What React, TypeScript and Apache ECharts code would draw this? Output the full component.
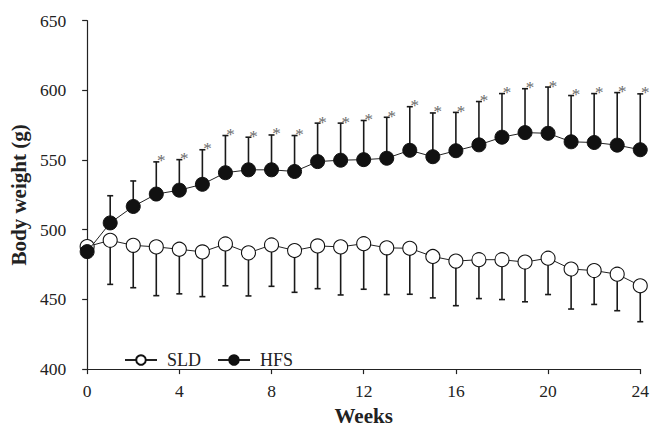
import React, { useEffect, useRef } from "react";
import * as echarts from "echarts";

const weeks = [0, 1, 2, 3, 4, 5, 6, 7, 8, 9, 10, 11, 12, 13, 14, 15, 16, 17, 18, 19, 20, 21, 22, 23, 24];
const sldMean = [487.9, 492.4, 488.8, 487.7, 486.0, 484.1, 489.8, 483.4, 489.1, 485.1, 488.4, 487.7, 490.0, 487.0, 486.7, 480.8, 477.5, 478.5, 478.5, 476.8, 479.6, 471.8, 470.7, 468.1, 459.8];
const sldSD = [0, 31.6, 30.4, 35.0, 32.0, 32.1, 30.0, 30.9, 29.7, 30.0, 30.7, 34.5, 32.7, 33.5, 33.0, 29.7, 32.0, 27.9, 28.6, 28.5, 26.1, 28.7, 24.3, 26.2, 25.8];
const hfsMean = [484.3, 504.9, 516.7, 525.6, 528.4, 532.6, 540.9, 543.0, 543.0, 541.8, 548.9, 549.9, 550.3, 551.3, 557.0, 552.4, 556.7, 560.9, 566.4, 569.7, 569.2, 563.1, 562.6, 560.7, 557.4];
const hfsSD = [0, 19.5, 18.3, 23.1, 21.9, 24.8, 26.7, 23.4, 25.0, 25.8, 27.6, 26.6, 28.1, 29.4, 31.3, 31.4, 27.5, 31.1, 31.3, 31.5, 33.2, 33.2, 35.1, 37.7, 40.1];
const sigWeeks = [3, 4, 5, 6, 7, 8, 9, 10, 11, 12, 13, 14, 15, 16, 17, 18, 19, 20, 21, 22, 23, 24];
const xTicks = { min: 0, max: 24, interval: 4 };
const yTicks = { min: 400, max: 650, interval: 50 };

const FONT = "'Liberation Serif', 'Times New Roman', serif";

function errorBarRender(dir: number) {
  return (params: any, api: any) => {
    const x = api.value(0);
    const m = api.value(1);
    const e = api.value(2);
    const sig = api.value(3);
    if (!e) return { type: "group", children: [] };
    const p0 = api.coord([x, m]);
    const p1 = api.coord([x, m + dir * e]);
    const children: any[] = [
      {
        type: "line",
        shape: { x1: p0[0], y1: p0[1], x2: p1[0], y2: p1[1] },
        style: { stroke: "#1a1a1a", lineWidth: 1.6 },
      },
      {
        type: "line",
        shape: { x1: p1[0] - 3, y1: p1[1], x2: p1[0] + 3, y2: p1[1] },
        style: { stroke: "#1a1a1a", lineWidth: 1.6 },
      },
    ];
    if (sig) {
      children.push({
        type: "text",
        x: p1[0] + 5,
        y: p1[1] - 1,
        style: {
          text: "*",
          fill: "#6a6a6a",
          font: `17px ${FONT}`,
          align: "center",
          verticalAlign: "middle",
        },
      });
    }
    return { type: "group", children };
  };
}

export default function App() {
  const ref = useRef<HTMLDivElement>(null);
  useEffect(() => {
    if (!ref.current) return;
    const chart = echarts.init(ref.current, null, { renderer: "svg" });
    const sldErr = weeks.map((w, i) => [w, sldMean[i], sldSD[i], 0]);
    const hfsErr = weeks.map((w, i) => [w, hfsMean[i], hfsSD[i], sigWeeks.includes(w) ? 1 : 0]);
    chart.setOption({
      animation: false,
      textStyle: { fontFamily: FONT },
      grid: { left: 86.7, right: 11.7, top: 20.7, bottom: 56.7, containLabel: false },
      legend: {
        left: 119,
        top: 346,
        itemWidth: 32,
        itemHeight: 12,
        itemGap: 16,
        textStyle: { fontFamily: FONT, fontSize: 18, color: "#222", padding: [0, 0, 0, 5] },
        data: ["SLD", "HFS"],
      },
      xAxis: {
        type: "value",
        ...xTicks,
        name: "Weeks",
        nameLocation: "middle",
        nameGap: 33,
        nameTextStyle: { fontFamily: FONT, fontSize: 21, fontWeight: "bold", color: "#222" },
        axisLine: { lineStyle: { color: "#222", width: 1.2 } },
        axisTick: { show: true, length: 5, lineStyle: { color: "#222", width: 1.2 } },
        axisLabel: { fontFamily: FONT, fontSize: 17.5, color: "#222", margin: 13 },
        splitLine: { show: false },
      },
      yAxis: {
        type: "value",
        ...yTicks,
        name: "Body weight (g)",
        nameLocation: "middle",
        nameGap: 58,
        nameTextStyle: { fontFamily: FONT, fontSize: 21, fontWeight: "bold", color: "#222" },
        axisLine: { show: true, lineStyle: { color: "#222", width: 1.2 } },
        axisTick: { show: true, length: 5, lineStyle: { color: "#222", width: 1.2 } },
        axisLabel: { fontFamily: FONT, fontSize: 17.5, color: "#222", margin: 21 },
        splitLine: { show: false },
      },
      series: [
        {
          type: "custom",
          name: "sldErr",
          renderItem: errorBarRender(-1),
          data: sldErr,
          z: 1,
          silent: true,
        },
        {
          type: "custom",
          name: "hfsErr",
          renderItem: errorBarRender(1),
          data: hfsErr,
          z: 1,
          silent: true,
        },
        {
          type: "line",
          name: "SLD",
          data: weeks.map((w, i) => [w, sldMean[i]]),
          symbol: "circle",
          symbolSize: 14,
          lineStyle: { color: "#222", width: 1 },
          itemStyle: { color: "#fff", borderColor: "#111", borderWidth: 1.1 },
          z: 3,
        },
        {
          type: "line",
          name: "HFS",
          data: weeks.map((w, i) => [w, hfsMean[i]]),
          symbol: "circle",
          symbolSize: 14,
          lineStyle: { color: "#222", width: 1 },
          itemStyle: { color: "#111", borderColor: "#111", borderWidth: 1 },
          z: 4,
        },
      ],
    });
    return () => chart.dispose();
  }, []);
  return <div ref={ref} style={{ width: 652, height: 431, position: "absolute", left: 0, top: 0 }} />;
}
